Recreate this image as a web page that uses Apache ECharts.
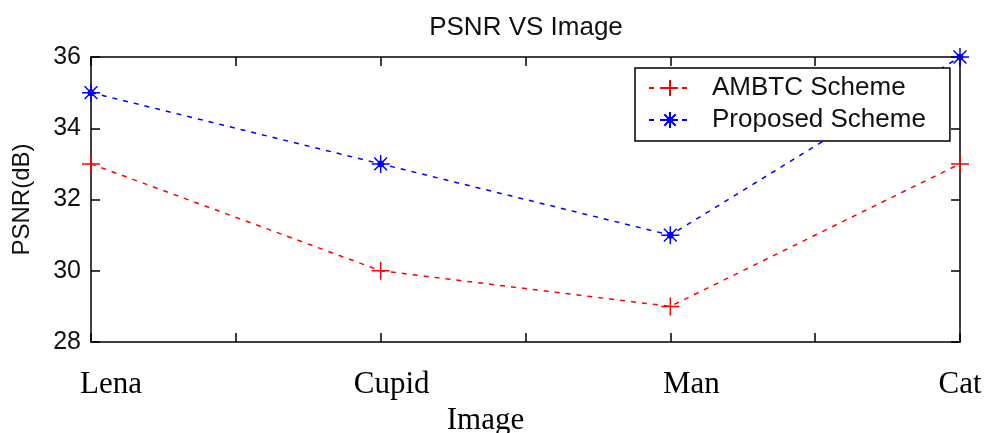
<!DOCTYPE html>
<html>
<head>
    <meta charset="utf-8">
    <title>PSNR VS Image</title>
    <script src="https://cdn.jsdelivr.net/npm/echarts@6/dist/echarts.min.js"></script>
    <style>
        html, body { margin: 0; padding: 0; background: #fff; }
        #main { width: 984px; height: 433px; }
    </style>
</head>
<body>
    <div id="main"></div>
    <script>
        // 数据
        var images = ['Lena', 'Cupid', 'Man', 'Cat'];
        var ambtc = [33, 30, 29, 33];
        var proposed = [35, 33, 31, 36];
        var yTicks = [28, 30, 32, 34, 36];

        // 标记形状
        var plusPath = 'path://M8,0L8,16M0,8L16,8';
        var starPath = 'path://M8,0L8,16M0,8L16,8M2.3,2.3L13.7,13.7M2.3,13.7L13.7,2.3' +
            'M10.3,8A2.3,2.3,0,1,1,5.7,8A2.3,2.3,0,1,1,10.3,8Z';

        function toPoints(vals) {
            return vals.map(function (v, i) { return [i + 1, v]; });
        }

        var sansFont = '"Liberation Sans", Arial, sans-serif';
        var serifFont = '"Liberation Serif", "Times New Roman", serif';

        var myChart = echarts.init(document.getElementById('main'));

        var tickCommon = { show: true, inside: true, length: 9, lineStyle: { color: '#000', width: 1.5 } };
        var lineCommon = { show: true, lineStyle: { color: '#000', width: 1.5 } };

        option = {
            animation: false,
            backgroundColor: '#fff',
            title: {
                text: 'PSNR VS Image',
                left: 521,
                textAlign: 'center',
                top: 10,
                textStyle: { fontFamily: sansFont, fontSize: 26, fontWeight: 'normal', color: '#111' }
            },
            legend: {
                left: 635,
                top: 68,
                orient: 'vertical',
                itemWidth: 42,
                itemHeight: 20,
                itemGap: 6,
                padding: [7, 24, 8, 13],
                borderColor: '#000',
                borderWidth: 1.5,
                borderRadius: 0,
                backgroundColor: '#fff',
                textStyle: { fontFamily: sansFont, fontSize: 26, color: '#111', padding: [0, 0, 0, 16] }
            },
            grid: { left: 91, right: 24, top: 57, bottom: 91, containLabel: false, outerBoundsMode: 'none' },
            xAxis: [{
                type: 'value',
                min: 1,
                max: 4,
                interval: 0.5,
                position: 'bottom',
                name: 'Image',
                nameLocation: 'middle',
                nameGap: 62,
                nameTextStyle: { fontFamily: serifFont, fontSize: 31, color: '#000', padding: [0, 80, 0, 0] },
                axisLine: lineCommon,
                axisTick: tickCommon,
                splitLine: { show: false },
                axisLabel: {
                    margin: 27,
                    fontFamily: serifFont,
                    fontSize: 31,
                    color: '#000',
                    formatter: function (v) {
                        if (Math.abs(v - Math.round(v)) > 1e-6) return '';
                        var k = Math.round(v);
                        return '{l' + k + '|' + images[k - 1] + '}';
                    },
                    rich: {
                        l1: { fontFamily: serifFont, fontSize: 31, color: '#000', padding: [0, 0, 0, 40] },
                        l2: { fontFamily: serifFont, fontSize: 31, color: '#000', padding: [0, 0, 0, 22] },
                        l3: { fontFamily: serifFont, fontSize: 31, color: '#000', padding: [0, 0, 0, 42] },
                        l4: { fontFamily: serifFont, fontSize: 31, color: '#000', padding: [0, 0, 0, 0] }
                    }
                }
            }, {
                type: 'value',
                min: 1,
                max: 4,
                interval: 0.5,
                position: 'top',
                axisLine: lineCommon,
                axisTick: tickCommon,
                axisLabel: { show: false },
                splitLine: { show: false }
            }],
            yAxis: [{
                type: 'value',
                min: yTicks[0],
                max: yTicks[yTicks.length - 1],
                interval: 2,
                name: 'PSNR(dB)',
                nameLocation: 'middle',
                nameRotate: 90,
                nameGap: 57,
                nameTextStyle: { fontFamily: sansFont, fontSize: 24, color: '#111' },
                axisLine: lineCommon,
                axisTick: tickCommon,
                splitLine: { show: false },
                axisLabel: { margin: 10, fontFamily: sansFont, fontSize: 25, color: '#111' }
            }, {
                type: 'value',
                min: yTicks[0],
                max: yTicks[yTicks.length - 1],
                interval: 2,
                position: 'right',
                axisLine: lineCommon,
                axisTick: tickCommon,
                axisLabel: { show: false },
                splitLine: { show: false }
            }],
            series: [{
                name: 'AMBTC Scheme',
                type: 'line',
                data: toPoints(ambtc),
                symbol: plusPath,
                symbolSize: 18,
                clip: false,
                lineStyle: { color: '#ff0000', width: 1.5, type: [5, 6] },
                itemStyle: { color: '#ff0000', borderColor: '#ff0000', borderWidth: 1.5 }
            }, {
                name: 'Proposed Scheme',
                type: 'line',
                data: toPoints(proposed),
                symbol: starPath,
                symbolSize: 18,
                clip: false,
                lineStyle: { color: '#0000ff', width: 1.5, type: [5, 6] },
                itemStyle: { color: '#0000ff', borderColor: '#0000ff', borderWidth: 1.5 }
            }]
        };
        myChart.setOption(option);
    </script>
</body>
</html>
